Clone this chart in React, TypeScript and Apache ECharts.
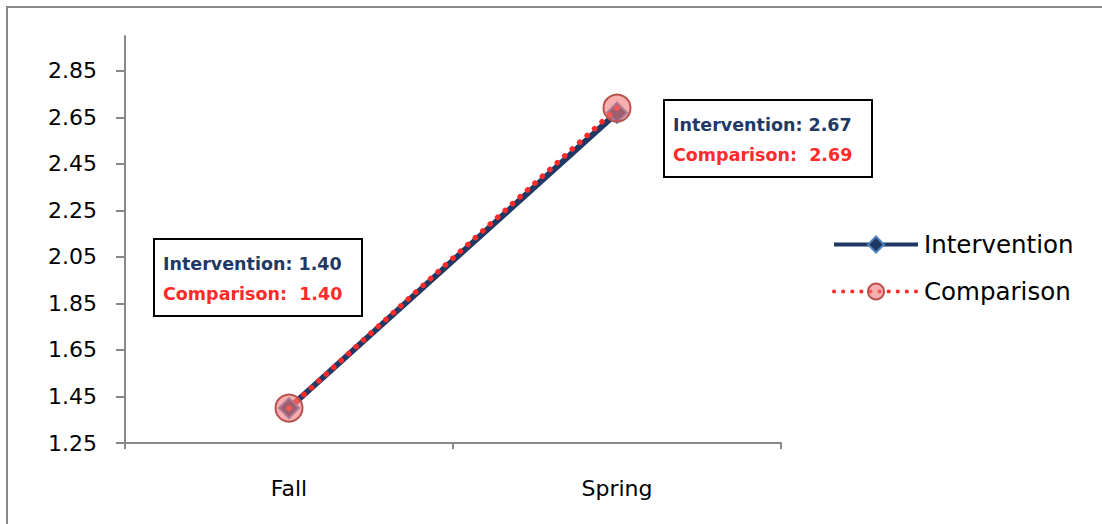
import React, { useEffect, useRef } from "react";
import * as echarts from "echarts";

const categories = ["Fall", "Spring"];
const interventionValues = [1.4, 2.67];
const comparisonValues = [1.4, 2.69];
const yTicks = [1.25, 1.45, 1.65, 1.85, 2.05, 2.25, 2.45, 2.65, 2.85];
const seriesNames = ["Intervention", "Comparison"];

const NAVY = "#1F3864";
const RED = "#FF2A2A";
const FONT = "DejaVu Sans";

export default function App() {
  const ref = useRef<HTMLDivElement>(null);
  useEffect(() => {
    if (!ref.current) return;
    const chart = echarts.init(ref.current, null, { renderer: "svg" });
    const boxText = (x: number, y: number, a: number, b: number) => ({
      type: "group",
      left: x,
      top: y,
      children: [
        {
          type: "rect",
          shape: { x: 0, y: 0, width: 208, height: 77 },
          style: { fill: "#fff", stroke: "#000", lineWidth: 2 },
        },
        {
          type: "text",
          x: 9,
          y: 25,
          style: {
            text: `${seriesNames[0]}: ${a.toFixed(2)}`,
            fill: NAVY,
            font: `bold 17.5px "${FONT}"`,
            verticalAlign: "middle",
          },
        },
        {
          type: "text",
          x: 9,
          y: 55,
          style: {
            text: `${seriesNames[1]}:  ${b.toFixed(2)}`,
            fill: RED,
            font: `bold 17.5px "${FONT}"`,
            verticalAlign: "middle",
          },
        },
      ],
    });
    chart.setOption({
      animation: false,
      backgroundColor: "#fff",
      grid: { left: 125, right: 321, top: 36, bottom: 81 },
      legend: {
        orient: "vertical",
        left: 827,
        top: 227,
        itemGap: 22,
        itemWidth: 84,
        itemHeight: 20,
        textStyle: { fontSize: 24.5, color: "#000", fontFamily: FONT, padding: [0, 0, 0, 1] },
        data: [
          { name: seriesNames[0], lineStyle: { width: 4 } },
          { name: seriesNames[1], lineStyle: { width: 4, type: [0.1, 9], cap: "round" } },
        ],
      },
      xAxis: {
        type: "category",
        data: categories,
        boundaryGap: true,
        axisLine: { lineStyle: { color: "#888", width: 2 } },
        axisTick: { show: true, length: 6, inside: false, lineStyle: { color: "#888", width: 2 } },
        axisLabel: { color: "#000", fontSize: 22, fontFamily: FONT, margin: 34 },
      },
      yAxis: {
        type: "value",
        min: 1.25,
        max: 3.0,
        splitLine: { show: false },
        axisLine: { show: true, lineStyle: { color: "#888", width: 2 } },
        axisTick: { show: true, length: 9, lineStyle: { color: "#888", width: 2 }, customValues: yTicks },
        axisLabel: {
          color: "#000",
          fontSize: 22,
          fontFamily: FONT,
          margin: 28,
          customValues: yTicks,
          formatter: (v: number) => v.toFixed(2),
        },
      },
      series: [
        {
          name: seriesNames[0],
          type: "line",
          data: interventionValues,
          symbol: "diamond",
          symbolSize: 20,
          z: 2,
          lineStyle: { color: NAVY, width: 6 },
          itemStyle: { color: NAVY, borderColor: "#4F81BD", borderWidth: 2 },
        },
        {
          name: seriesNames[1],
          type: "line",
          data: comparisonValues,
          symbol: "circle",
          symbolSize: 27,
          z: 3,
          lineStyle: { color: RED, width: 5.5, type: [0.1, 10], cap: "round" },
          itemStyle: { color: "rgba(240,120,120,0.6)", borderColor: "#B9524E", borderWidth: 2 },
        },
      ],
      graphic: [
        {
          type: "polyline",
          shape: { points: [[7, 524], [7, 7], [1102, 7]] },
          style: { stroke: "#888", lineWidth: 2, fill: null },
          silent: true,
        },
        boxText(153, 238, interventionValues[0], comparisonValues[0]),
        boxText(663, 99, interventionValues[1], comparisonValues[1]),
      ],
    });
    return () => chart.dispose();
  }, []);
  return (
    <div
      ref={ref}
      style={{ position: "absolute", left: 0, top: 0, width: 1102, height: 524 }}
    />
  );
}
